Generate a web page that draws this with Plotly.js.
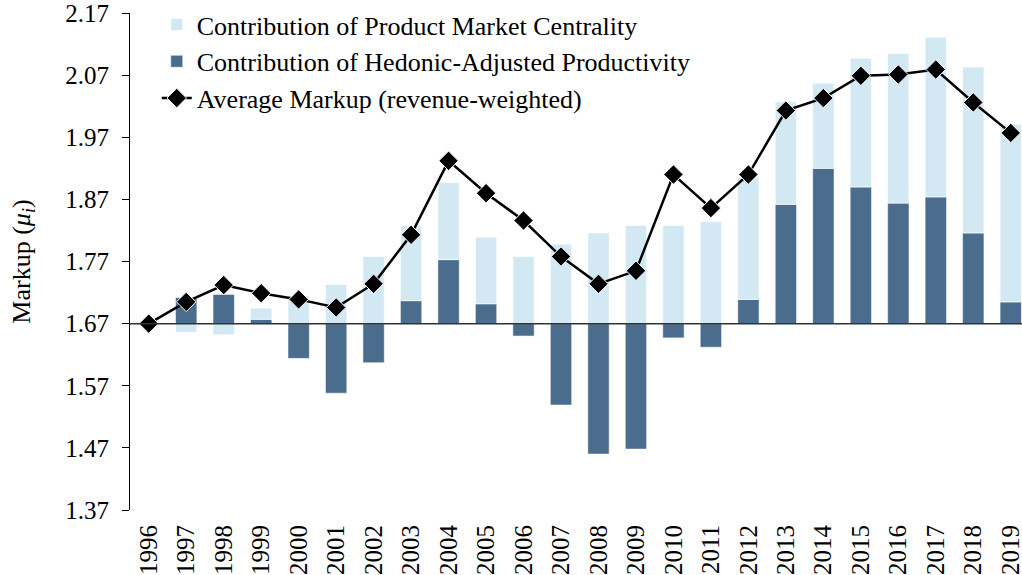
<!DOCTYPE html>
<html>
<head>
<meta charset="utf-8">
<script src="https://cdn.plot.ly/plotly-3.0.1.min.js"></script>
<style>
  html, body { margin: 0; padding: 0; background: #ffffff; overflow: hidden; }
  #chart { width: 1022px; height: 575px; }
</style>
</head>
<body>
<div id="chart"></div>
<script>
// ---- data ----
const years = ["1996","1997","1998","1999","2000","2001","2002","2003","2004","2005","2006","2007",
               "2008","2009","2010","2011","2012","2013","2014","2015","2016","2017","2018","2019"];

// Average markup (revenue-weighted)
const markup = [1.670,1.705,1.732,1.719,1.709,1.696,1.734,1.813,1.932,1.880,1.836,1.778,
                1.734,1.755,1.910,1.856,1.910,2.013,2.033,2.069,2.071,2.079,2.026,1.977];

// Contributions relative to the 1996 level (1.67)
const hedonicContribution = [null,0.042,0.047,0.007,-0.056,-0.112,-0.063,0.037,0.103,0.032,-0.020,-0.131,
                             -0.210,-0.202,-0.023,-0.038,0.039,0.192,0.250,0.220,0.194,0.204,0.146,0.035];
const centralityContribution = [null,-0.014,-0.018,0.018,0.045,0.063,0.108,0.120,0.124,0.107,0.108,0.128,
                                0.146,0.158,0.158,0.164,0.196,0.165,0.137,0.207,0.241,0.257,0.267,0.286];

const baseLevel = 1.67;
const yTicks = [1.37,1.47,1.57,1.67,1.77,1.87,1.97,2.07,2.17];

const FONT = "Liberation Serif, Times New Roman, serif";

const traces = [
  {
    type: "bar",
    name: "Contribution of Hedonic-Adjusted Productivity",
    x: years,
    y: hedonicContribution,
    yaxis: "y",
    marker: { color: "#4a6c8d", line: { color: "rgba(255,255,255,0.55)", width: 1 } },
    legendrank: 2,
    hoverinfo: "skip"
  },
  {
    type: "bar",
    name: "Contribution of Product Market Centrality",
    x: years,
    y: centralityContribution,
    yaxis: "y",
    marker: { color: "#d2e8f3", line: { color: "rgba(255,255,255,0.7)", width: 1 } },
    legendrank: 1,
    hoverinfo: "skip"
  },
  {
    type: "scatter",
    mode: "lines+markers",
    name: "Average Markup (revenue-weighted)",
    x: years,
    y: markup,
    yaxis: "y2",
    line: { color: "#000000", width: 2.5 },
    marker: { symbol: "diamond", size: 15, color: "#000000", line: { color: "#ffffff", width: 1 } },
    legendrank: 3,
    hoverinfo: "skip"
  }
];

const layout = {
  width: 1022,
  height: 575,
  margin: { l: 130, r: 0, t: 13, b: 65, pad: 0 },
  paper_bgcolor: "#ffffff",
  plot_bgcolor: "#ffffff",
  font: { family: FONT, size: 25, color: "#000000" },
  barmode: "relative",
  bargap: 0.43,
  showlegend: true,
  legend: {
    x: 0.03, y: 1.024, xanchor: "left", yanchor: "top",
    bgcolor: "rgba(255,255,255,0)",
    font: { family: FONT, size: 26, color: "#000000" },
    traceorder: "normal",
    itemwidth: 30
  },
  xaxis: {
    type: "category",
    range: [-0.5, 23.3],
    showline: false,
    showgrid: false,
    zeroline: false,
    ticks: "",
    tickangle: -90,
    ticklabelstandoff: 9,
    ticklabeloverflow: "allow",
    tickfont: { family: FONT, size: 25, color: "#000000" }
  },
  yaxis: {
    range: [yTicks[0] - baseLevel, yTicks[yTicks.length - 1] - baseLevel],
    showline: false,
    showgrid: false,
    zeroline: false,
    showticklabels: false,
    ticks: ""
  },
  yaxis2: {
    overlaying: "y",
    side: "left",
    range: [yTicks[0], yTicks[yTicks.length - 1]],
    tickmode: "array",
    tickvals: yTicks,
    ticktext: yTicks.map(v => v.toFixed(2)),
    showline: true,
    linecolor: "#000000",
    linewidth: 1,
    ticks: "outside",
    ticklen: 7,
    tickwidth: 1,
    tickcolor: "#000000",
    showgrid: false,
    zeroline: false,
    ticklabelstandoff: 8,
    ticklabeloverflow: "allow",
    tickfont: { family: FONT, size: 25, color: "#000000" },
    title: {
      text: "Markup (<i>μ</i><sub><i>i</i></sub>)",
      font: { family: FONT, size: 26, color: "#000000" },
      standoff: 27
    }
  },
  shapes: [
    {
      type: "line", xref: "paper", x0: 0, x1: 1,
      yref: "y", y0: 0, y1: 0,
      line: { color: "#333333", width: 1.5 },
      layer: "above"
    }
  ]
};

Plotly.newPlot("chart", traces, layout, { displayModeBar: false, staticPlot: true });
</script>
</body>
</html>
